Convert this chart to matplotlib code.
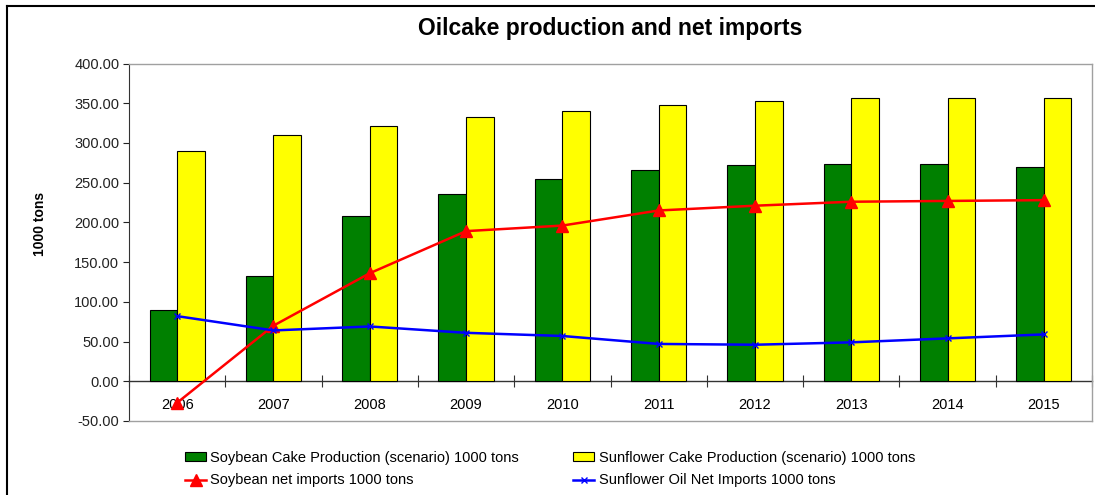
import numpy as np
import matplotlib.pyplot as plt
from matplotlib.ticker import FormatStrFormatter, FixedLocator

plt.rcParams['font.family'] = ['Liberation Sans', 'DejaVu Sans']

# Du lieu doc tu bieu do
years = ['2006', '2007', '2008', '2009', '2010', '2011', '2012', '2013', '2014', '2015']
soy_cake = [90, 133, 208, 236, 255, 266, 272, 273, 273, 270]
sun_cake = [290, 310, 321, 333, 340, 348, 353, 356, 356, 356]
soy_imports = [-27, 70, 136, 189, 196, 215, 221, 226, 227, 228]
sun_oil_imports = [82, 64, 69, 61, 57, 47, 46, 49, 54, 59]

fig = plt.figure(figsize=(10.95, 4.95), dpi=100)
ax = fig.add_axes([129 / 1095, 1 - 421 / 495, (1092 - 129) / 1095, (421 - 63.5) / 495])

x = np.arange(len(years))
w = 0.287

# Cot
b1 = ax.bar(x - w / 2, soy_cake, w, color='#008000', edgecolor='black', linewidth=0.8)
b2 = ax.bar(x + w / 2, sun_cake, w, color='#FFFF00', edgecolor='black', linewidth=0.8)

# Duong
l1, = ax.plot(x, soy_imports, color='#FF0000', linewidth=1.8, marker='^', markersize=8)
l2, = ax.plot(x, sun_oil_imports, color='#0000FF', linewidth=1.8, marker='x', markersize=5,
              markeredgewidth=1.0)

ax.set_xlim(-0.5, len(years) - 0.5)
ax.set_ylim(-50, 400)
ax.set_yticks(np.arange(-50, 401, 50))
ax.yaxis.set_major_formatter(FormatStrFormatter('%.2f'))
ax.tick_params(axis='y', direction='out', length=4, width=0.8, labelsize=10.5, pad=3,
               colors='#222222')
ax.set_xticks([])

for s in ['top', 'right', 'bottom']:
    ax.spines[s].set_color('#a0a0a0')
    ax.spines[s].set_linewidth(1.0)
ax.spines['left'].set_color('#333333')

# Truc x tai gia tri 0
sec = ax.secondary_xaxis(50 / 450)
sec.spines['bottom'].set_color('#333333')
sec.spines['bottom'].set_linewidth(1.0)
sec.xaxis.set_major_locator(FixedLocator(np.arange(-0.5, len(years), 1.0)))
sec.xaxis.set_major_formatter(plt.NullFormatter())
sec.set_xticks(x, years, minor=True)
sec.tick_params(which='major', direction='inout', length=8, width=0.8, colors='#333333')
sec.tick_params(which='minor', length=0, labelsize=10.5, pad=12)

ax.set_ylabel('1000 tons', fontsize=10, fontweight='bold')
ax.yaxis.set_label_coords(-82 / 963, 0.55)

fig.text(0.557, 1 - 28 / 495, 'Oilcake production and net imports', ha='center', va='center',
         fontsize=16.5, fontweight='bold')

# Vien khung
fig.add_artist(plt.Line2D([7 / 1095, 7 / 1095], [0, 1 - 6 / 495], color='black', linewidth=1.5))
fig.add_artist(plt.Line2D([7 / 1095, 1], [1 - 6 / 495, 1 - 6 / 495], color='black', linewidth=1.5))

fig.legend([b1, l1, b2, l2],
           ['Soybean Cake Production (scenario) 1000 tons', 'Soybean net imports 1000 tons',
            'Sunflower Cake Production (scenario) 1000 tons', 'Sunflower Oil Net Imports 1000 tons'],
           ncol=2, loc='center', bbox_to_anchor=(550 / 1095, 1 - 469 / 495), frameon=False,
           fontsize=10.5, handlelength=1.45, handletextpad=0.3, columnspacing=3.7,
           labelspacing=0.6, handleheight=0.5, borderpad=0.2)

fig.savefig('out.png', dpi=100)
